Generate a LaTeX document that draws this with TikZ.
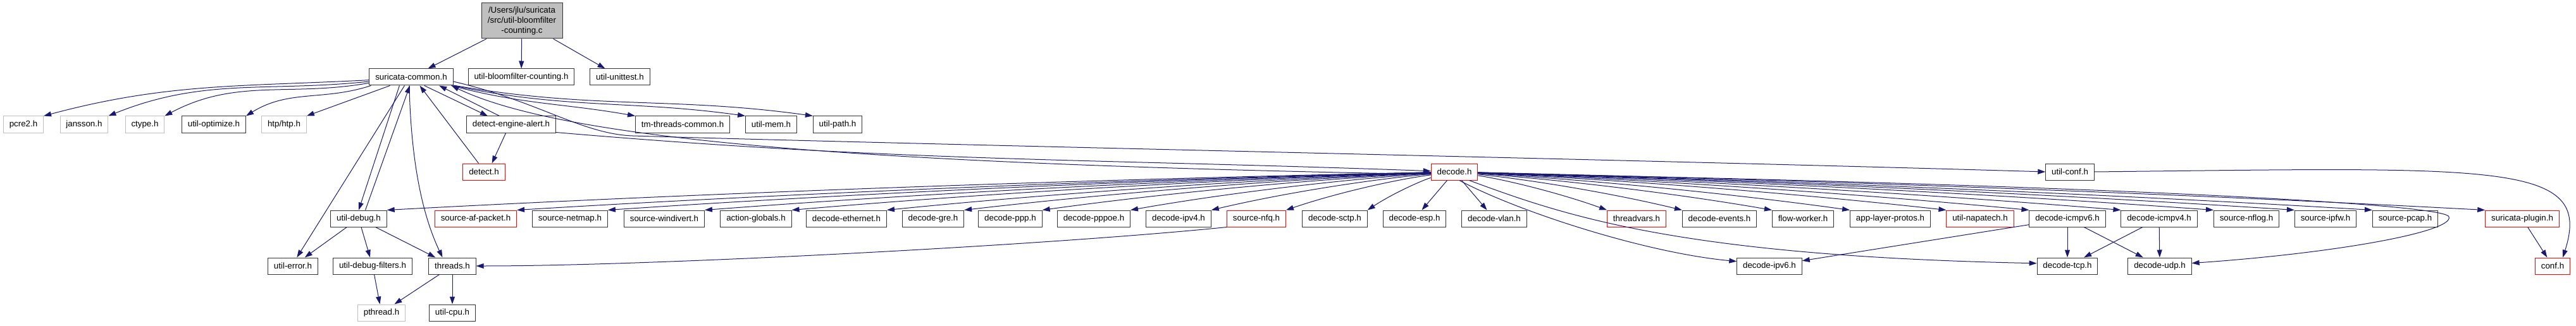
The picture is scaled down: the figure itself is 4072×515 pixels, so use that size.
\documentclass[tikz,border=0pt]{standalone}
\usepackage{fontspec}
\setmainfont{Liberation Sans}
\usetikzlibrary{arrows.meta,calc}

\definecolor{incblue}{RGB}{25,25,112}
\definecolor{sysgray}{RGB}{191,191,191}

\begin{document}
\begin{tikzpicture}[x=0.75pt, y=0.75pt,
    hfile/.style={draw=black!80, fill=white, line width=0.75pt,
      font=\fontsize{10}{12}\selectfont, inner xsep=7pt, inner ysep=0pt,
      minimum height=19.5pt},
    sysfile/.style={hfile, draw=sysgray},
    cutfile/.style={hfile, draw=red},
    inc/.style={draw=incblue, line width=0.75pt,
      -{Triangle[length=9pt, width=6pt]}},
  ]
  \useasboundingbox (0,0) rectangle (4072,515);

  % source file
  \node[hfile, fill=sysgray, align=center, minimum width=96pt, minimum height=42pt] (root) at (825,482)
    {/Users/jlu/suricata\\/src/util-bloomfilter\\-counting.c};

  % direct includes
  \node[hfile] (sc) at (650,393) {suricata-common.h};
  \node[hfile] (ubc) at (824,393) {util-bloomfilter-counting.h};
  \node[hfile] (uut) at (980,393) {util-unittest.h};

  % headers of suricata-common.h
  \node[sysfile] (pcre2) at (37,318) {pcre2.h};
  \node[sysfile] (jansson) at (133,318) {jansson.h};
  \node[sysfile] (ctype) at (229,318) {ctype.h};
  \node[hfile] (uopt) at (338,318) {util-optimize.h};
  \node[sysfile] (htp) at (449,318) {htp/htp.h};
  \node[hfile] (dea) at (808,318) {detect-engine-alert.h};
  \node[hfile] (tmc) at (1079,318) {tm-threads-common.h};
  \node[hfile] (umem) at (1219,318) {util-mem.h};
  \node[hfile] (upath) at (1324,318) {util-path.h};

  \node[cutfile] (detect) at (765,243) {detect.h};
  \node[cutfile] (decode) at (2299,243) {decode.h};
  \node[hfile] (uconf) at (3272,243) {util-conf.h};

  % headers of decode.h
  \node[hfile] (udebug) at (567,169) {util-debug.h};
  \node[cutfile] (safp) at (752,169) {source-af-packet.h};
  \node[hfile] (snetmap) at (901,169) {source-netmap.h};
  \node[hfile] (swindivert) at (1050,169) {source-windivert.h};
  \node[hfile] (actglob) at (1195,169) {action-globals.h};
  \node[hfile] (deth) at (1338,169) {decode-ethernet.h};
  \node[hfile] (dgre) at (1475,169) {decode-gre.h};
  \node[hfile] (dppp) at (1597,169) {decode-ppp.h};
  \node[hfile] (dpppoe) at (1729,169) {decode-pppoe.h};
  \node[hfile] (dipv4) at (1863,169) {decode-ipv4.h};
  \node[cutfile] (snfq) at (1986,169) {source-nfq.h};
  \node[hfile] (dsctp) at (2110,169) {decode-sctp.h};
  \node[hfile] (desp) at (2236,169) {decode-esp.h};
  \node[hfile] (dvlan) at (2362,169) {decode-vlan.h};
  \node[cutfile] (thrvars) at (2587,169) {threadvars.h};
  \node[hfile] (devents) at (2718,169) {decode-events.h};
  \node[hfile] (fworker) at (2850,169) {flow-worker.h};
  \node[hfile] (alprotos) at (2988,169) {app-layer-protos.h};
  \node[cutfile] (unapatech) at (3130,169) {util-napatech.h};
  \node[hfile] (dicmpv6) at (3268,169) {decode-icmpv6.h};
  \node[hfile] (dicmpv4) at (3413,169) {decode-icmpv4.h};
  \node[hfile] (snflog) at (3551,169) {source-nflog.h};
  \node[hfile] (sipfw) at (3676,169) {source-ipfw.h};
  \node[hfile] (spcap) at (3802,169) {source-pcap.h};
  \node[cutfile] (splugin) at (3987,169) {suricata-plugin.h};

  \node[hfile] (uerror) at (463,94) {util-error.h};
  \node[hfile] (udfilters) at (589,94) {util-debug-filters.h};
  \node[hfile] (threads) at (715,94) {threads.h};
  \node[hfile] (dipv6) at (2797,94) {decode-ipv6.h};
  \node[hfile] (dtcp) at (3268,94) {decode-tcp.h};
  \node[hfile] (dudp) at (3414,94) {decode-udp.h};
  \node[cutfile] (conf) at (4035,94) {conf.h};

  \node[sysfile] (pthread) at (603,20) {pthread.h};
  \node[hfile] (ucpu) at (715,20) {util-cpu.h};

  \coordinate (udpbend) at (3871,172);

  % edges
  \draw[inc] (root) -- (sc);
  \draw[inc] (root) -- (ubc);
  \draw[inc] (root) -- (uut);

  \draw[inc] (sc.-176) to[out=183,in=15] (pcre2.north east);
  \draw[inc] (sc.-174) to[out=186,in=22] (jansson.north east);
  \draw[inc] (sc.-172) to[out=190,in=28] (ctype.north east);
  \draw[inc] (sc.-168) to[out=198,in=32] (uopt.north east);
  \draw[inc] (sc.-158) -- (htp.north east);
  \draw[inc] (sc.-33) -- (dea.160);
  \draw[inc] (dea.144) -- (sc.-17);
  \draw[inc] (detect.122) -- (sc.-45);
  \draw[inc] (dea.-122) -- (detect.47);
  \draw[inc] (sc.-12) to[out=-15,in=170] (tmc.north west);
  \draw[inc] (sc.south east) to[out=-12,in=172] (umem.north west);
  \draw[inc] (sc.-11) to[out=-10,in=172] (upath.north west);
  \draw[inc] (sc.-6) .. controls (850,355) and (920,303) .. (1000,300)
    .. controls (1500,285) and (2600,262) .. (uconf.west);
  \draw[inc] (dea.-10) .. controls (1419,259) and (1720,264) .. (decode.178);
  \draw[inc] (decode.186) .. controls (1400,255) and (900,290) .. (sc.-12);

  \draw[inc] (sc.-144) -- (udebug.north);
  \draw[inc] (udebug.52) -- (sc.-99);
  \draw[inc] (sc.-128) -- (uerror.65);
  \draw[inc] (sc.-103) .. controls (650,250) and (670,170) .. (threads.139);

  \foreach \f in {udebug,safp,snetmap,swindivert,actglob,deth,dgre,dppp,dpppoe,dipv4,snfq,dsctp}
    \draw[inc] (decode) .. controls ($(decode)!0.35!(\f.north east)+(0,9)$)
      and ($(decode)!0.7!(\f.north east)+(0,9)$) .. (\f.north east);
  \draw[inc] (decode) -- (desp);
  \draw[inc] (decode) -- (dvlan);
  \foreach \f in {thrvars,devents,fworker,alprotos,unapatech,dicmpv6,dicmpv4,snflog,sipfw,spcap,splugin}
    \draw[inc] (decode) .. controls ($(decode)!0.35!(\f.north west)+(0,8)$)
      and ($(decode)!0.7!(\f.north west)+(0,8)$) .. (\f.north west);
  \draw[inc] (decode.-60) .. controls (2400,180) and (2600,115) .. (dipv6.172);
  \draw[inc] (decode.-30) .. controls (2470,175) and (2650,110) .. (dtcp.175);
  \draw[inc] (decode.-3) .. controls (3200,225) and (3862,195) .. (udpbend)
    .. controls (3880,149) and (3700,115) .. (dudp.5);

  \draw[inc] (uconf.east) .. controls (3950,250) and (4100,260) .. (conf.40);
  \draw[inc] (splugin) -- (conf);
  \draw[inc] (snfq.south west) .. controls (1660,127) and (1031,94) .. (threads.east);

  \draw[inc] (udebug) -- (uerror);
  \draw[inc] (udebug) -- (udfilters);
  \draw[inc] (udebug) -- (threads);
  \draw[inc] (udfilters) -- (pthread);
  \draw[inc] (threads) -- (pthread);
  \draw[inc] (threads) -- (ucpu);

  \draw[inc] (dicmpv6) -- (dipv6);
  \draw[inc] (dicmpv6) -- (dtcp);
  \draw[inc] (dicmpv6) -- (dudp);
  \draw[inc] (dicmpv4) -- (dtcp);
  \draw[inc] (dicmpv4) -- (dudp);
\end{tikzpicture}
\end{document}
